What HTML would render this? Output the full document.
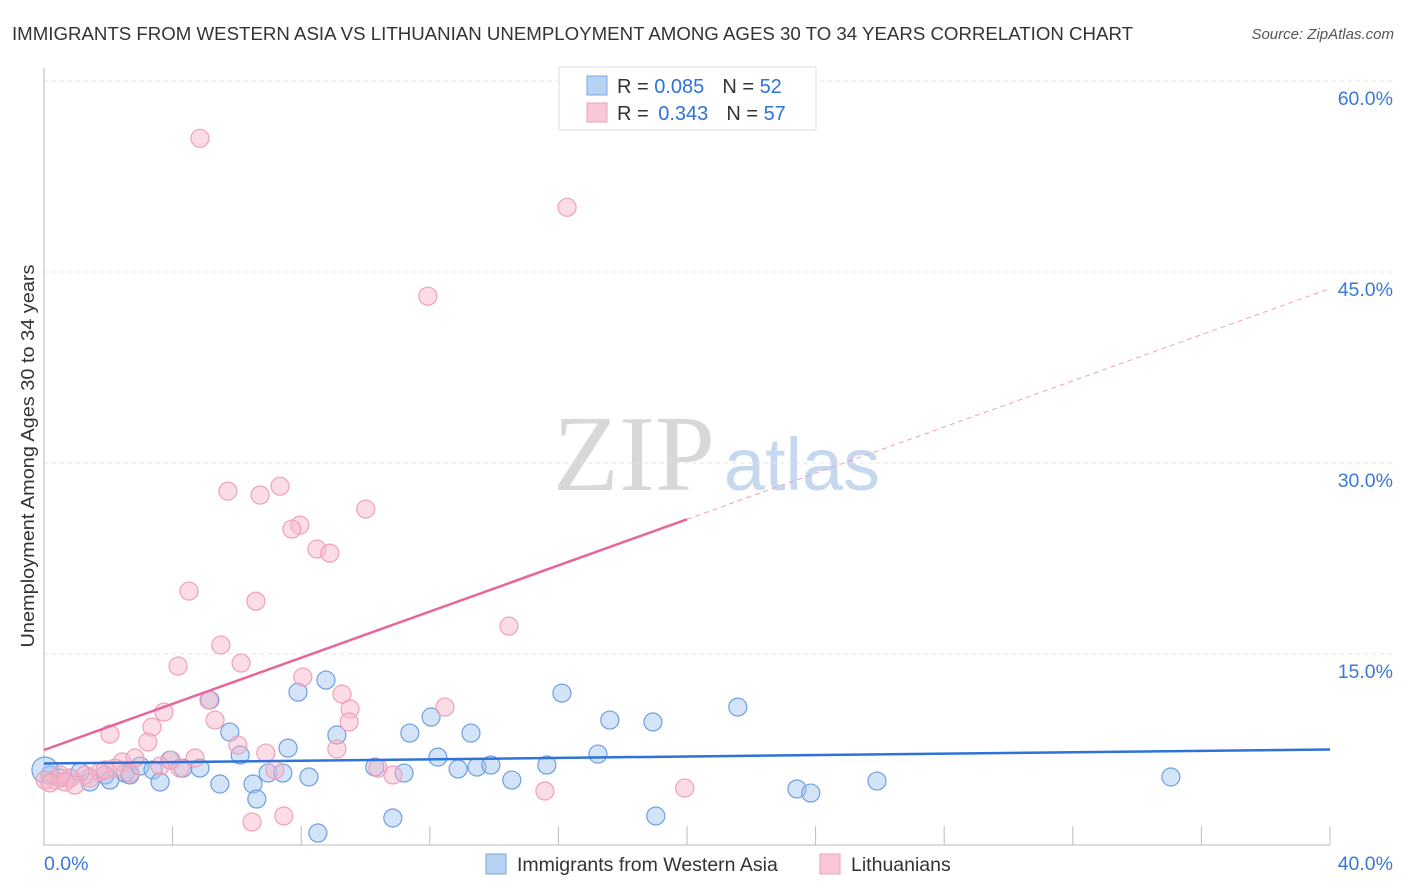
<!DOCTYPE html>
<html><head><meta charset="utf-8"><style>
body{margin:0;background:#fff;font-family:"Liberation Sans",sans-serif;}
svg{display:block}
</style></head><body>
<svg id="chart" width="1406" height="892" xmlns="http://www.w3.org/2000/svg">
<text x="12" y="40" font-size="18" textLength="1121" lengthAdjust="spacingAndGlyphs" fill="#333">IMMIGRANTS FROM WESTERN ASIA VS LITHUANIAN UNEMPLOYMENT AMONG AGES 30 TO 34 YEARS CORRELATION CHART</text>
<text x="1394" y="39" font-size="15" fill="#555" font-style="italic" text-anchor="end">Source: ZipAtlas.com</text>
<g><text x="634" y="490" font-size="108" fill="#d8d8d8" text-anchor="middle" font-family="Liberation Serif,serif">ZIP</text><text x="802" y="490" font-size="74" fill="#c6d8f0" text-anchor="middle">atlas</text></g>
<g id="grid"></g><g id="axes"></g><g id="pts"></g><g id="lines"></g>
<text transform="translate(34,456) rotate(-90)" font-size="18" textLength="383" lengthAdjust="spacingAndGlyphs" fill="#333" text-anchor="middle">Unemployment Among Ages 30 to 34 years</text>
<g>
<rect x="559" y="67" width="257" height="63" fill="#fff" stroke="#ddd"/>
<rect x="587" y="76" width="20" height="19" fill="#b8d2f4" stroke="#7aa6e0"/>
<rect x="587" y="103" width="20" height="19" fill="#f9c8d6" stroke="#f0a0b8"/>
<text x="617" y="93" font-size="20" fill="#333">R = <tspan fill="#2f72d8">0.085</tspan><tspan dx="18">N = </tspan><tspan fill="#2f72d8">52</tspan></text>
<text x="617" y="120" font-size="20" fill="#333">R = <tspan fill="#2f72d8" dx="4">0.343</tspan><tspan dx="18">N = </tspan><tspan fill="#2f72d8">57</tspan></text>
</g>
<g>
<rect x="486" y="854" width="20" height="20" fill="#b8d2f4" stroke="#7aa6e0"/>
<text x="517" y="871" font-size="19.5" fill="#333">Immigrants from Western Asia</text>
<rect x="820" y="854" width="20" height="20" fill="#f9c8d6" stroke="#f0a0b8"/>
<text x="851" y="871" font-size="19.5" fill="#333">Lithuanians</text>
</g>
</svg>
<script>
const yTicks=[15,30,45,60];
const xTickLabels=["0.0%","40.0%"];
const blueX=[0.19,0.5,0.81,1.43,1.9,2.05,2.52,2.67,2.99,3.39,3.61,3.92,4.32,4.85,5.16,5.47,5.78,6.1,6.5,6.62,6.97,7.43,7.59,7.9,8.24,8.52,8.77,9.11,10.29,10.85,11.2,11.38,12.04,12.25,12.88,13.28,13.47,13.9,14.55,15.64,16.11,17.23,17.6,18.94,19.03,21.58,23.42,23.85,25.91,35.05,0.03,1.12];
const blueY=[5.5,5.26,5.26,4.95,5.5,5.1,5.65,5.5,6.2,5.89,4.95,6.67,6.04,6.04,11.38,4.79,8.87,7.07,4.79,3.61,5.65,5.65,7.61,12.0,5.34,0.94,12.95,8.64,6.12,2.12,5.65,8.79,10.05,6.9,5.97,8.79,6.12,6.28,5.1,6.28,11.93,7.14,9.81,9.66,2.28,10.83,4.4,4.08,5.02,5.34,5.89,5.73];
const pinkX=[4.85,16.27,11.94,7.34,5.72,6.72,10.01,7.96,7.71,8.49,8.89,4.51,6.59,14.46,5.5,4.17,6.13,8.05,9.27,5.13,9.52,12.47,3.73,5.32,9.49,3.36,2.05,3.23,9.11,6.03,3.95,2.43,6.9,4.7,2.83,3.61,2.21,10.39,10.85,1.74,1.28,0.81,0.34,0.5,7.18,19.93,15.58,6.47,7.46,0.03,0.65,1.43,2.67,4.23,1.9,0.96,0.19];
const pinkY=[55.5,50.08,43.1,28.18,27.79,27.48,26.38,25.12,24.81,23.24,22.92,19.94,19.15,17.19,15.7,14.05,14.29,13.19,11.85,11.38,10.68,10.83,10.44,9.81,9.66,9.26,8.71,8.09,7.54,7.85,6.67,6.52,7.22,6.83,6.83,6.2,6.04,6.04,5.5,5.73,5.5,5.26,5.1,5.5,5.89,4.47,4.24,1.81,2.28,5.1,4.95,5.26,5.65,6.04,5.89,4.71,4.87];
const blueTrend=[6.4,7.5];
const pinkTrend=[7.46,43.7];
const pinkSolidEnd=20;
const NS="http://www.w3.org/2000/svg";
const X0=44,X1=1330,Y0=845;
const sx=v=>X0+(v/40)*(X1-X0);
const sy=v=>Y0-(v/15)*191;
function mk(t,a,p){const e=document.createElementNS(NS,t);for(const k in a)e.setAttribute(k,a[k]);document.getElementById(p).appendChild(e);return e;}
yTicks.forEach(t=>{
 const g=mk('line',{x1:X0,x2:1393,y1:sy(t),y2:sy(t),stroke:'#e4e4e4','stroke-dasharray':'4,4'},'grid');
 
 
 const l=mk('text',{x:1393,y:sy(t)+24,'text-anchor':'end','font-size':19.5,fill:'#3a78d8'},'axes');
 l.textContent=t.toFixed(1)+'%';
 
 
});
const ax=mk('path',{d:`M${X0},68V${Y0}H${X1}`,stroke:'#bbb',fill:'none'},'axes');


for(let i=1;i<=10;i++){const t=mk('line',{x1:sx(i*4),x2:sx(i*4),y1:826,y2:Y0,stroke:'#bbb'},'axes');
 
 }
xTickLabels.forEach((s,i)=>{const t=mk('text',{x:i?1393:44,y:870,'text-anchor':i?'end':'start','font-size':19.5,fill:'#3a78d8'},'axes');t.textContent=s;
 
 });
blueX.forEach((v,i)=>{const c=mk('circle',{cx:sx(v),cy:sy(blueY[i]),r:(i==50?13:9),fill:'rgba(160,196,240,0.45)',stroke:'#6e9ee0','stroke-width':1.2},'pts');
 
 });
pinkX.forEach((v,i)=>{const c=mk('circle',{cx:sx(v),cy:sy(pinkY[i]),r:9,fill:'rgba(248,180,200,0.45)',stroke:'#f0a0b8','stroke-width':1.2},'pts');
 
 });
const pAt=x=>pinkTrend[0]+(pinkTrend[1]-pinkTrend[0])*x/40;
let e=mk('line',{x1:sx(0),y1:sy(pinkTrend[0]),x2:sx(pinkSolidEnd),y2:sy(pAt(pinkSolidEnd)),stroke:'#e8649a','stroke-width':2.5},'lines');


e=mk('line',{x1:sx(pinkSolidEnd),y1:sy(pAt(pinkSolidEnd)),x2:sx(40),y2:sy(pinkTrend[1]),stroke:'#eea0bc','stroke-width':1,'stroke-dasharray':'5,4'},'lines');


e=mk('line',{x1:sx(0),y1:sy(blueTrend[0]),x2:sx(40),y2:sy(blueTrend[1]),stroke:'#2f72d8','stroke-width':2.5},'lines');


</script>
</body></html>
